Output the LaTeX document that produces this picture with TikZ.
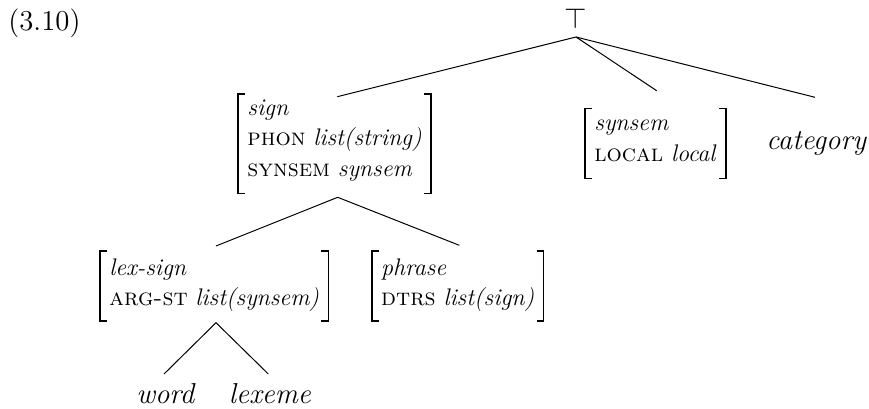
\documentclass[tikz,border=0pt]{standalone}
\usepackage{fontspec}
\begin{document}
\begin{tikzpicture}[x=0.5pt,y=-0.5pt,
  branch/.style={line width=0.5pt},
  brk/.style={line width=0.8pt},
  avm/.style={inner xsep=4.5pt,inner ysep=0pt,font=\fontsize{12}{15.25}\selectfont,anchor=base west},
  big/.style={font=\fontsize{14.4}{17}\selectfont,inner sep=0pt}]
\useasboundingbox (0,0) rectangle (869,408);
% label
\node[big,anchor=base west] (num) at (8,30) {(3.10)};
% top
\node[big,anchor=base] (top) at (576,28.3) {$\top$};
\coordinate (topapex) at (576,37);
% sign AVM
\node[avm] (sign) at (238,115) {\begin{tabular}[t]{@{}l@{}}\textit{sign}\\\textsc{phon} \textit{list(string)}\\\textsc{synsem} \textit{synsem}\end{tabular}};
% synsem AVM
\node[avm] (synsem) at (585,130.7) {\begin{tabular}[t]{@{}l@{}}\textit{synsem}\\\textsc{local} \textit{local}\end{tabular}};
% category
\node[big,anchor=base west] (category) at (766,149.3) {\textit{category}};
% lex-sign AVM
\node[avm] (lexsign) at (100,275) {\begin{tabular}[t]{@{}l@{}}\textit{lex-sign}\\\textsc{arg-st} \textit{list(synsem)}\end{tabular}};
% phrase AVM
\node[avm] (phrase) at (371.7,275) {\begin{tabular}[t]{@{}l@{}}\textit{phrase}\\\textsc{dtrs} \textit{list(sign)}\end{tabular}};
% word, lexeme
\node[big,anchor=base] (word) at (166,403.3) {\textit{word}};
\node[big,anchor=base] (lexeme) at (270,403.3) {\textit{lexeme}};
% brackets
\foreach \n/\t/\b in {sign/94/193.3, synsem/108.3/178.3, lexsign/250.7/320.7, phrase/250.7/320.7}{
  \draw[brk] ([xshift=3.5pt]\n.west |- 0,\t) -- (\n.west |- 0,\t) -- (\n.west |- 0,\b) -- ([xshift=3.5pt]\n.west |- 0,\b);
  \draw[brk] ([xshift=-3.5pt]\n.east |- 0,\t) -- (\n.east |- 0,\t) -- (\n.east |- 0,\b) -- ([xshift=-3.5pt]\n.east |- 0,\b);
}
% connector endpoints
\coordinate (signin) at (337.3,96.7);
\coordinate (synsemin) at (656.7,90.7);
\coordinate (catin) at (815,97.3);
\coordinate (signapex) at (337.7,197.3);
\coordinate (lexin) at (216,246);
\coordinate (phrasein) at (459.3,245.3);
\coordinate (lexapex) at (216,322.7);
\coordinate (wordin) at (164,374);
\coordinate (lexemein) at (268.3,374);
% connectors
\draw[branch] (topapex) -- (signin);
\draw[branch] (topapex) -- (synsemin);
\draw[branch] (topapex) -- (catin);
\draw[branch] (signapex) -- (lexin);
\draw[branch] (signapex) -- (phrasein);
\draw[branch] (lexapex) -- (wordin);
\draw[branch] (lexapex) -- (lexemein);
\end{tikzpicture}
\end{document}
